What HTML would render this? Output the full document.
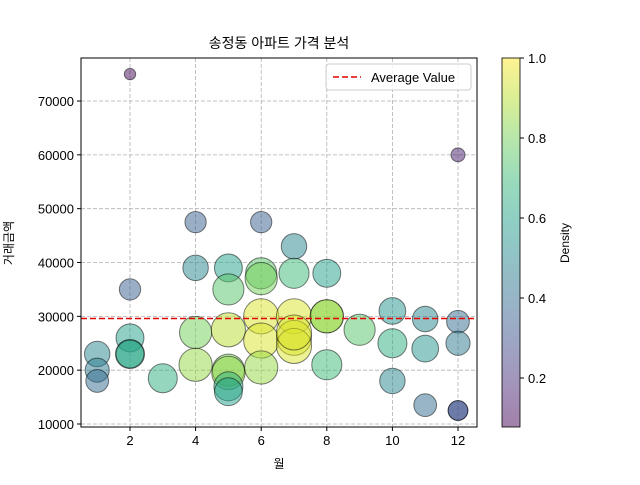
<!DOCTYPE html>
<html><head><meta charset="utf-8"><style>
body{margin:0;background:#fff}
svg text{font-family:"Liberation Sans","Noto Sans CJK KR",sans-serif;fill:#000}
</style></head><body>
<svg id="c" width="640" height="480" xmlns="http://www.w3.org/2000/svg"></svg>
<script>
const months=[1,1,1,2,2,2,2,2,3,4,4,4,4,5,5,5,5,5,5,5,6,6,6,6,6,6,7,7,7,7,7,7,8,8,8,8,9,10,10,10,11,11,11,12,12,12,12,12];
const prices=[23000,20000,18000,75000,35000,26000,23000,23000,18500,47500,39000,27000,21000,39000,35000,27500,20000,19500,17000,16000,47500,38000,37000,30000,25500,20500,43000,38000,30000,26000,24500,27000,38000,30000,30000,21000,27500,31000,25000,18000,29500,24000,13500,60000,29000,25000,12500,12500];
const density=[0.5,0.45,0.4,0.1,0.35,0.6,0.65,0.6,0.65,0.35,0.5,0.8,0.85,0.6,0.75,0.9,0.8,0.85,0.65,0.6,0.35,0.75,0.8,0.95,0.95,0.85,0.5,0.7,0.95,0.95,0.95,0.95,0.6,0.85,0.85,0.7,0.75,0.55,0.65,0.5,0.5,0.55,0.4,0.15,0.4,0.45,0.3,0.3];
const avgValue=29600;
const xTicks=[2,4,6,8,10,12];
const yTicks=[10000,20000,30000,40000,50000,60000,70000];
const cTicks=[0.2,0.4,0.6,0.8,1.0];
const NS="http://www.w3.org/2000/svg";
const svg=document.getElementById('c');
const L=81,R=477,T=58,B=427;
const X=v=>130+(v-2)*32.8;
const Y=v=>424-(v-10000)*53.83/10000;
const cMin=0.0775,cMax=1.0;
const CB=v=>427-(v-cMin)/(cMax-cMin)*369;
const vir=[[68,1,84],[72,40,120],[62,74,137],[49,104,142],[38,130,142],[31,158,137],[53,183,121],[110,206,88],[181,222,43],[253,231,37]];
function viridis(t){t=Math.max(0,Math.min(1,t));const p=t*9,i=Math.min(8,Math.floor(p)),f=p-i;const a=vir[i],b=vir[i+1];return 'rgb('+a.map((c,k)=>Math.round(c+(b[k]-c)*f)).join(',')+')';}
function mk(tag,attrs,parent){const e=document.createElementNS(NS,tag);for(const k in attrs)e.setAttribute(k,attrs[k]);(parent||svg).appendChild(e);return e;}
// grid
xTicks.forEach(v=>{const l=mk('line',{x1:X(v),x2:X(v),y1:T,y2:B,stroke:'#b0b0b0','stroke-dasharray':'4,2','stroke-width':0.8});

});
yTicks.forEach(v=>{const l=mk('line',{x1:L,x2:R,y1:Y(v),y2:Y(v),stroke:'#b0b0b0','stroke-dasharray':'4,2','stroke-width':0.8});

});
// points
months.forEach((m,i)=>{const d=density[i];const c=mk('circle',{cx:X(m),cy:Y(prices[i]),r:18*Math.sqrt(d),fill:viridis((d-cMin)/(cMax-cMin)),'fill-opacity':0.5,stroke:'rgba(0,0,0,0.5)','stroke-width':1});

});
// avg line
const al=mk('line',{x1:L,x2:R,y1:Y(avgValue),y2:Y(avgValue),stroke:'#e00000','stroke-width':1.6,'stroke-dasharray':'6,3'});


// axes frame
const fr=mk('rect',{x:L,y:T,width:R-L,height:B-T,fill:'none',stroke:'#000','stroke-width':1});


xTicks.forEach(v=>{mk('line',{x1:X(v),x2:X(v),y1:B,y2:B+4,stroke:'#000'});const t=mk('text',{x:X(v),y:B+18,'text-anchor':'middle','font-size':13});t.textContent=v;

});
yTicks.forEach(v=>{mk('line',{x1:L-4,x2:L,y1:Y(v),y2:Y(v),stroke:'#000'});const t=mk('text',{x:L-7,y:Y(v)+5,'text-anchor':'end','font-size':13});t.textContent=v;

});
// colorbar
const g=mk('linearGradient',{id:'cg',x1:0,y1:1,x2:0,y2:0},mk('defs',{}));
for(let k=0;k<=9;k++){mk('stop',{offset:k/9,'stop-color':viridis(k/9)},g);}
const cb=mk('rect',{x:502,y:T,width:18,height:B-T,fill:'url(#cg)','fill-opacity':0.5,stroke:'#000','stroke-width':0.8});


cTicks.forEach(v=>{mk('line',{x1:520,x2:524,y1:CB(v),y2:CB(v),stroke:'#000'});const t=mk('text',{x:528,y:CB(v)+5,'font-size':13});t.textContent=v.toFixed(1);

});
</script>
<svg style="position:absolute;left:0;top:0" width="640" height="480" xmlns="http://www.w3.org/2000/svg">
<text x="279" y="48" text-anchor="middle" font-size="14">송정동 아파트 가격 분석</text>
<text x="279" y="468" text-anchor="middle" font-size="12">월</text>
<text transform="translate(13,243) rotate(-90)" text-anchor="middle" font-size="12">거래금액</text>
<text transform="translate(569,243) rotate(-90)" text-anchor="middle" font-size="12">Density</text>
<g>
<rect x="326" y="64" width="145" height="26" rx="3" fill="#fff" fill-opacity="0.8" stroke="#ccc"/>
<line x1="333" y1="77" x2="361" y2="77" stroke="#e00000" stroke-width="1.6" stroke-dasharray="6,3"/>
<text x="371" y="82" font-size="13">Average Value</text>
</g>
</svg>
</body></html>
